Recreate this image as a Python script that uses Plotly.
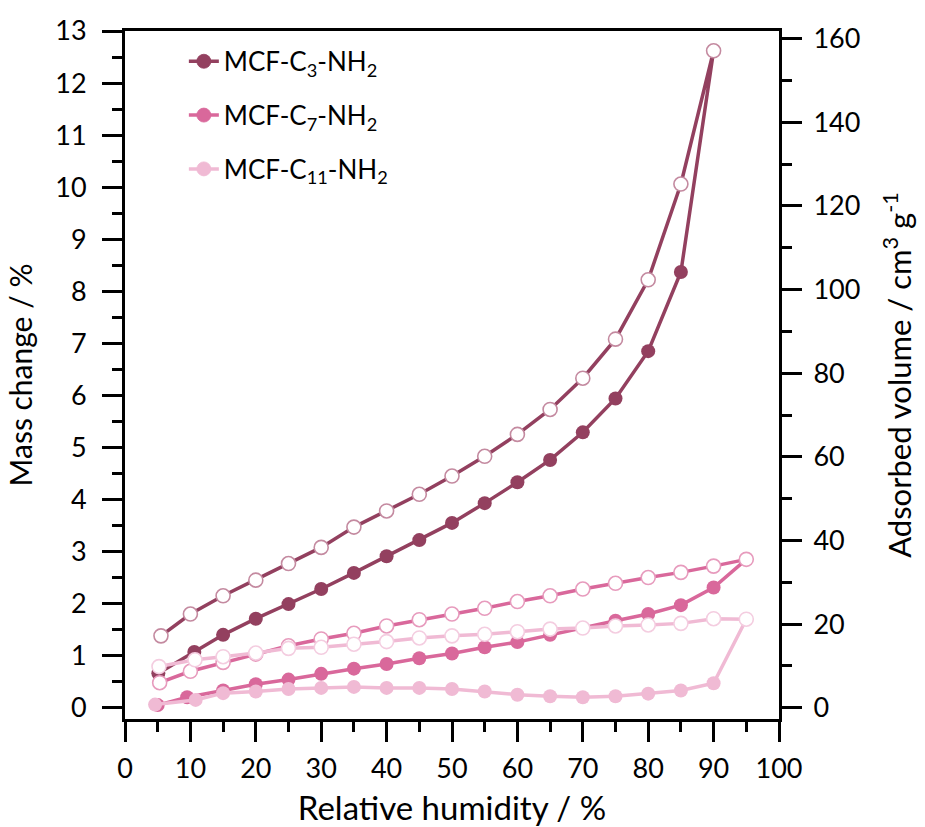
import plotly.graph_objects as go

# Water vapour sorption isotherms (mass change vs relative humidity)
rh_ads_c3 = [5.1, 10.6, 15, 20, 25, 30, 35, 40, 45, 50, 55, 60, 65, 70, 75, 80, 85]
mass_ads_c3 = [0.66, 1.07, 1.40, 1.71, 1.99, 2.28, 2.59, 2.91, 3.22, 3.55, 3.93, 4.33, 4.76, 5.29, 5.94, 6.85, 8.37]
rh_des_c3 = [90, 85, 80, 75, 70, 65, 60, 55, 50, 45, 40, 35, 30, 25, 20, 15, 10, 5.5]
mass_des_c3 = [12.62, 10.06, 8.22, 7.08, 6.33, 5.73, 5.25, 4.83, 4.45, 4.10, 3.78, 3.47, 3.08, 2.77, 2.45, 2.15, 1.80, 1.38]

rh_ads_c7 = [5, 9.5, 15, 20, 25, 30, 35, 40, 45, 50, 55, 60, 65, 70, 75, 80, 85, 90]
mass_ads_c7 = [0.05, 0.20, 0.33, 0.45, 0.54, 0.65, 0.75, 0.84, 0.95, 1.04, 1.16, 1.26, 1.40, 1.53, 1.67, 1.80, 1.97, 2.31]
rh_des_c7 = [95, 90, 85, 80, 75, 70, 65, 60, 55, 50, 45, 40, 35, 30, 25, 20, 15, 10, 5.3]
mass_des_c7 = [2.85, 2.72, 2.60, 2.50, 2.39, 2.28, 2.15, 2.04, 1.91, 1.80, 1.69, 1.57, 1.43, 1.32, 1.19, 1.03, 0.87, 0.70, 0.48]

rh_ads_c11 = [4.6, 10.8, 15, 20, 25, 30, 35, 40, 45, 50, 55, 60, 65, 70, 75, 80, 85, 90]
mass_ads_c11 = [0.06, 0.15, 0.28, 0.31, 0.36, 0.38, 0.40, 0.38, 0.38, 0.36, 0.31, 0.25, 0.22, 0.20, 0.22, 0.27, 0.33, 0.47]
rh_des_c11 = [95, 90, 85, 80, 75, 70, 65, 60, 55, 50, 45, 40, 35, 30, 25, 20, 15, 10.7, 5.2]
mass_des_c11 = [1.70, 1.71, 1.62, 1.59, 1.57, 1.53, 1.51, 1.46, 1.41, 1.38, 1.34, 1.27, 1.22, 1.16, 1.14, 1.05, 0.98, 0.92, 0.79]

names = ["MCF-C<sub>3</sub>-NH<sub>2</sub>", "MCF-C<sub>7</sub>-NH<sub>2</sub>", "MCF-C<sub>11</sub>-NH<sub>2</sub>"]
colors = ["#93405f", "#d9689b", "#f0bad4"]
edge_colors = ["#c48aa0", "#e79bbd", "#f4cde0"]

x_ticks = list(range(0, 101, 10))
y_ticks = list(range(0, 14))
y2_ticks = list(range(0, 161, 20))

# 1 % mass change of water = 12.45 cm3 (STP) per g
VOL_PER_PERCENT = 12.45
Y_RANGE = [-0.217, 13.0]

FONT = "Lato, 'Open Sans', sans-serif"

series = [
    (rh_ads_c3, mass_ads_c3, rh_des_c3, mass_des_c3),
    (rh_ads_c7, mass_ads_c7, rh_des_c7, mass_des_c7),
    (rh_ads_c11, mass_ads_c11, rh_des_c11, mass_des_c11),
]

fig = go.Figure()
for (xa, ya, xd, yd), name, col, edge in zip(series, names, colors, edge_colors):
    na, nd = len(xa), len(xd)
    fig.add_trace(go.Scatter(
        x=xa + xd, y=ya + yd,
        mode="lines+markers",
        name=name,
        legendgroup=name,
        line=dict(color=col, width=3.5),
        marker=dict(
            size=14,
            color=[col] * na + ["white"] * nd,
            line=dict(color=[col] * na + [edge] * nd, width=[0] * na + [1.6] * nd),
        ),
    ))

# secondary axis carrier (volume scale)
fig.add_trace(go.Scatter(x=[None], y=[None], yaxis="y2", showlegend=False, hoverinfo="skip"))

axis_common = dict(
    showline=True, linecolor="black", linewidth=3,
    ticks="outside", ticklen=20, tickwidth=3, tickcolor="black",
    showgrid=False, zeroline=False, automargin=False,
    tickfont=dict(family=FONT, size=27, color="black"),
)

fig.update_layout(
    width=925, height=827,
    margin=dict(l=125, r=146, t=31, b=108),
    paper_bgcolor="white", plot_bgcolor="white",
    font=dict(family=FONT, color="black"),
    showlegend=True,
    legend=dict(
        x=0.09, y=0.99, xanchor="left", yanchor="top",
        font=dict(family=FONT, size=26, color="black"),
        bgcolor="rgba(0,0,0,0)", tracegroupgap=17,
    ),
    xaxis=dict(
        **axis_common, range=[0, 100], tickvals=x_ticks, mirror=True,
        ticklabelstandoff=4,
        minor=dict(dtick=5, ticklen=10, tickwidth=3, tickcolor="black", ticks="outside"),
        title=dict(text="Relative humidity / %", font=dict(family=FONT, size=33), standoff=16),
    ),
    yaxis=dict(
        **axis_common, range=Y_RANGE, tickvals=y_ticks,
        ticklabelstandoff=10,
        minor=dict(dtick=0.5, ticklen=10, tickwidth=3, tickcolor="black", ticks="outside"),
        title=dict(text="Mass change / %", font=dict(family=FONT, size=30), standoff=14),
    ),
    yaxis2=dict(
        **axis_common, overlaying="y", side="right", anchor="x",
        ticklabelstandoff=6,
        range=[Y_RANGE[0] * VOL_PER_PERCENT, Y_RANGE[1] * VOL_PER_PERCENT], tickvals=y2_ticks,
        minor=dict(dtick=10, ticklen=10, tickwidth=3, tickcolor="black", ticks="outside"),
        title=dict(text="Adsorbed volume / cm<sup>3</sup> g<sup>-1</sup>", font=dict(family=FONT, size=31), standoff=30),
    ),
)

fig.write_html("out.html")
